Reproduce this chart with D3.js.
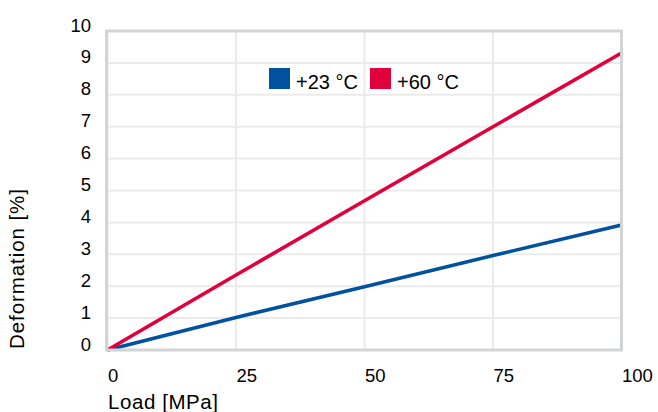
<!DOCTYPE html>
<html><head><meta charset="utf-8">
<script src="https://cdn.jsdelivr.net/npm/d3@7"></script>
<style>
html,body{margin:0;padding:0;background:#fff;}
svg{display:block;font-family:"Liberation Sans",Arial,Helvetica,sans-serif;}
</style></head>
<body>
<svg id="chart" width="658" height="412"></svg>
<script>
const loads = [0, 25, 50, 75, 100];
const def23 = [0, 1.02, 1.98, 2.96, 3.92];
const def60 = [0, 2.35, 4.68, 7.0, 9.31];
const xTicks = [0, 25, 50, 75, 100];
const yTicks = [0, 1, 2, 3, 4, 5, 6, 7, 8, 9, 10];
const seriesNames = ["+23 °C", "+60 °C"];
const seriesColors = ["#00519e", "#e1003c"];

const svg = d3.select("#chart");
const x = d3.scaleLinear().domain([0, 100]).range([107.5, 621.5]);
const y = d3.scaleLinear().domain([0, 10]).range([350, 31]);

// gridlines
svg.append("g").selectAll("line").data(yTicks).join("line")
  .attr("x1", x(0)).attr("x2", x(100))
  .attr("y1", d => y(d)).attr("y2", d => y(d))
  .attr("stroke", "#ebebeb").attr("stroke-width", 2);
svg.append("g").selectAll("line").data(xTicks).join("line")
  .attr("y1", y(0)).attr("y2", y(10))
  .attr("x1", d => x(d)).attr("x2", d => x(d))
  .attr("stroke", "#ebebeb").attr("stroke-width", 2);

// lines
const series = [def23, def60];
const line = d3.line().x((d, i) => x(loads[i])).y(d => y(d));
series.forEach((s, k) => {
  svg.append("path").datum(s)
    .attr("d", line)
    .attr("fill", "none")
    .attr("stroke", seriesColors[k])
    .attr("stroke-width", 3.6)
    .attr("stroke-linecap", "butt");
});

// frame
svg.append("rect")
  .attr("x", x(0) - 1).attr("y", y(10))
  .attr("width", x(100) - x(0) + 1).attr("height", y(0) - y(10))
  .attr("fill", "none").attr("stroke", "#d3d4d6").attr("stroke-width", 3);

// y tick labels
svg.append("g").selectAll("text").data(yTicks).join("text")
  .attr("x", 91).attr("y", d => y(d) + 0.5)
  .attr("text-anchor", "end")
  .attr("font-size", 18.5).attr("fill", "#000")
  .text(d => d);

// x tick labels
svg.append("g").selectAll("text").data(xTicks).join("text")
  .attr("x", d => x(d) + 0.5).attr("y", 382)
  .attr("text-anchor", "start")
  .attr("font-size", 18.5).attr("fill", "#000")
  .text(d => d);

// axis titles
svg.append("text")
  .attr("x", 108).attr("y", 409)
  .attr("font-size", 20.5).attr("fill", "#000")
  .attr("textLength", 110).attr("lengthAdjust", "spacing")
  .text("Load [MPa]");
svg.append("text")
  .attr("transform", "translate(23.5,349) rotate(-90)")
  .attr("font-size", 20.5).attr("fill", "#000")
  .attr("textLength", 160).attr("lengthAdjust", "spacing")
  .text("Deformation [%]");

// legend
const legX = [269, 370];
seriesNames.forEach((n, k) => {
  svg.append("rect").attr("x", legX[k]).attr("y", 68)
    .attr("width", 21).attr("height", 21).attr("fill", seriesColors[k]);
  svg.append("text").attr("x", legX[k] + 27).attr("y", 89)
    .attr("font-size", 20).attr("fill", "#000").text(n);
});
</script>
</body></html>
